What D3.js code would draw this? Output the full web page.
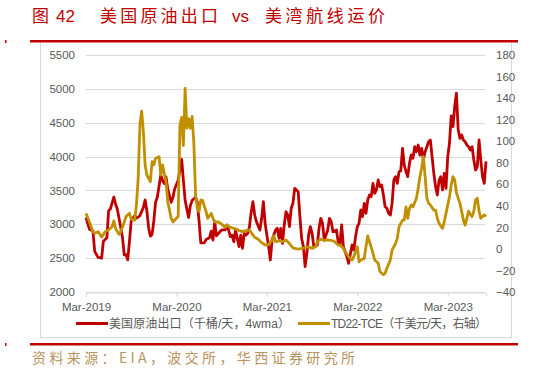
<!DOCTYPE html>
<html><head><meta charset="utf-8">
<script src="https://cdn.jsdelivr.net/npm/d3@7"></script>
<style>body{margin:0;background:#fff;} svg{display:block;}</style>
</head><body><svg id="c" width="534" height="371"></svg>
<script>
// US crude exports (kb/d, 4wma) — x = weeks since Mar-2019
const exportWeek = [0,2,4,5,7,9,10,12,13,14,16,17,18,20,21,22,23,24,25,26,28,29,31,33,34,35,36,37,38,39,40,41,43,44,45,46,47,49,50,51,53,54,55,56,57,59,60,61,63,64,65,66,68,69,71,72,73,74,75,77,78,80,81,82,83,84,85,86,88,89,90,91,92,93,94,95,96,97,98,100,101,102,103,104,105,106,107,109,110,111,112,113,114,115,116,117,118,119,120,121,122,123,124,125,126,127,128,129,130,131,133,134,135,136,137,139,140,141,142,144,145,146,147,148,150,151,153,154,155,156,157,158,159,160,161,162,163,164,165,166,167,168,169,170,171,172,173,174,175,176,177,178,179,180,181,182,183,184,185,186,187,188,189,190,191,192,193,194,195,196,197,198,199,200,201,202,203,204,205,206,207,208,209,210,211,212,213,214,215,216,217,218,219,220,221,222,223,224,225,226,227,228,229,230];
const exportKbd = [3100,2925,2900,2600,2510,2500,2750,2800,3200,3225,3400,3300,3225,2950,2800,2550,2550,2475,2750,3050,3125,3090,3125,3250,3360,3200,2950,2825,2850,3050,3325,3400,3725,3650,3600,3700,3525,3325,3400,3525,3650,3800,3960,3650,3350,3100,3275,3350,3400,3325,3050,2725,2725,2775,2800,2900,2768,3039,2830,2890,2916,2916,2990,2916,2817,2840,2743,2916,2670,2840,2645,2867,2840,2867,2965,3186,3334,3137,3039,2916,3088,3334,3015,2840,2670,2473,2768,2916,2940,2793,2940,2719,2990,3186,3137,2965,3236,3310,3531,3507,3482,3113,2793,2670,2374,2571,2840,2965,2867,2670,2694,2940,3088,3015,2768,2916,3088,3039,2890,2916,2743,2700,2990,2669,2521,2423,2694,2620,2817,2964,3014,3211,3113,3310,3162,3359,3433,3408,3605,3457,3507,3654,3556,3580,3433,3260,3236,3162,3137,3310,3654,3703,3605,3777,3790,4122,3875,3777,3703,3900,4023,3974,4146,4072,4171,4023,4122,3949,4072,4146,4220,4245,3998,3752,3555,3433,3650,3703,3507,3752,3531,3998,4196,4600,4442,4739,4935,4400,4269,4319,4245,4220,4171,4146,4097,4146,3949,3802,3851,4245,3949,3703,3605,3930];
// TD22 TCE (k USD/day, right axis)
const tceWeek = [0,2,4,5,7,9,11,13,15,16,17,19,20,22,23,25,26,28,29,30,31,32,33,34,35,37,38,39,40,42,43,44,46,47,49,50,51,53,54,55,56,57,58,59,60,61,62,63,64,65,66,67,68,69,70,72,73,74,76,78,80,81,83,85,86,88,90,92,94,96,97,99,101,103,105,107,108,109,111,113,115,117,119,120,122,124,126,128,130,132,133,135,137,139,141,143,145,146,148,149,151,153,154,156,157,158,160,161,162,163,165,166,168,169,171,172,173,175,176,178,179,180,182,183,184,185,186,187,188,190,191,192,193,194,195,196,197,198,200,201,202,203,205,206,207,209,210,211,212,213,215,216,217,218,219,220,221,222,223,224,225,226,227,228,229,230];
const tceKusd = [33,25,16,14.6,16,11,16,17.5,20.6,26,19,13.5,16,25,30,33,27.7,26.8,40.7,65.5,115,128,108.7,77.9,68.6,62.4,81,78,84,85.6,68.6,78,62.4,43.8,28.4,25,26.8,30,115,122,96,149,112,121,112,123,99,50,37.7,34.6,45.4,45,40,35,28.4,33,28.4,25,25,23,20,22,20,19,18.6,17,16,17,17.5,13,10.8,9,5.8,3.6,4,8.3,12,6.7,7.5,6.7,8.3,5,1,0.4,-0.1,0.4,1,2,0.5,2,6.7,9,8,8.3,8,6.7,3.6,3.6,0.5,-2.6,-7.2,-10.3,-7.2,2,-12,-10.3,-8.8,2,12,6.7,-4,-10.3,-13.4,-21,-24,-22.6,-18,-10.3,-1,5,9.8,20.6,26.8,26.8,39,28.4,37.7,40.7,39,47,56,67,74.8,85.6,67,47,42.3,40.7,36,36,28.4,23.7,19,25,33,48.4,59.3,67,64,52,42.3,35,26.8,22,28.4,35,32,30,35,45.4,47,35,28.4,30,31.6,30];

const leftTicks = [2000,2500,3000,3500,4000,4500,5000,5500];
const rightTicks = [-40,-20,0,20,40,60,80,100,120,140,160,180];
const xTickWeeks = [0,52,104,156,208];
const xTickLabels = ["Mar-2019","Mar-2020","Mar-2021","Mar-2022","Mar-2023"];
const seriesNames = ["美国原油出口（千桶/天，4wma）","TD22-TCE（千美元/天，右轴）"];
const titleParts = ["图","42","美国原油出口","vs","美湾航线运价"];
const sourceText = "资料来源：EIA，波交所，华西证券研究所";

const RED = "#c00000", GOLD = "#c09000", TXT = "#595959";
const svg = d3.select("#c");
const L = 86, R = 486, T = 55, B = 292;

const x = d3.scaleLinear().domain([0,230]).range([L,R]);
const yL = d3.scaleLinear().domain([2000,5500]).range([B,T]);
const yR = d3.scaleLinear().domain([-40,180]).range([B,T]);

// frame
svg.append("rect").attr("x",40.5).attr("y",41.5).attr("width",471).attr("height",296)
  .attr("fill","none").attr("stroke","#d9d9d9").attr("stroke-width",1);
svg.append("rect").attr("x",30).attr("y",40).attr("width",488).attr("height",2.5).attr("fill",RED);
svg.append("rect").attr("x",30).attr("y",343).attr("width",488).attr("height",2.5).attr("fill",RED);
svg.append("rect").attr("x",5).attr("y",40).attr("width",1.5).attr("height",3).attr("fill",RED);
svg.append("rect").attr("x",5).attr("y",343).attr("width",1.5).attr("height",3).attr("fill",RED);

// title
const tf = '"Noto Sans CJK SC", sans-serif';
const title = svg.append("g").attr("fill",RED).attr("font-size",17).attr("font-family",tf);
title.append("text").attr("x",32).attr("y",22).text(titleParts[0]);
title.append("text").attr("x",56).attr("y",22).attr("font-family","Liberation Sans, sans-serif").text(titleParts[1]);
title.append("text").attr("x",100).attr("y",22).attr("textLength",118).attr("lengthAdjust","spacing").text(titleParts[2]);
title.append("text").attr("x",232).attr("y",22).attr("font-family","Liberation Sans, sans-serif").text(titleParts[3]);
title.append("text").attr("x",265).attr("y",22).attr("textLength",120).attr("lengthAdjust","spacing").text(titleParts[4]);

// source
svg.append("text").attr("x",32).attr("y",363).attr("fill","#b8945f").attr("font-size",14)
  .attr("font-family",tf).attr("textLength",323).attr("lengthAdjust","spacing").text(sourceText);

// gridlines
svg.append("g").selectAll("line").data(leftTicks).join("line")
  .attr("x1",L).attr("x2",R-1).attr("y1",d=>Math.round(yL(d))+0.5).attr("y2",d=>Math.round(yL(d))+0.5)
  .attr("stroke","#d9d9d9").attr("stroke-width",1);

const af = "Liberation Sans, Arial, sans-serif";
// left axis
const gl = svg.append("g").attr("transform",`translate(${L-4},0)`)
  .call(d3.axisLeft(yL).tickValues(leftTicks).tickFormat(d3.format("d")).tickSize(0).tickPadding(7));
gl.select(".domain").remove();
gl.selectAll("text").attr("fill",TXT).attr("font-size",11.5).attr("font-family",af);
// right axis
const gr = svg.append("g").attr("transform",`translate(${R+3},0)`)
  .call(d3.axisRight(yR).tickValues(rightTicks).tickFormat(d3.format("d")).tickSize(0).tickPadding(7));
gr.select(".domain").remove();
gr.selectAll("text").attr("fill",TXT).attr("font-size",11.5).attr("font-family",af);
// x axis
const gx = svg.append("g").attr("transform",`translate(0,${B+0.5})`)
  .call(d3.axisBottom(x).tickValues(xTickWeeks).tickFormat((d,i)=>xTickLabels[i]).tickSize(4).tickPadding(6));
gx.select(".domain").attr("stroke","#d9d9d9");
gx.selectAll(".tick line").attr("stroke","#d9d9d9");
gx.selectAll("text").attr("fill",TXT).attr("font-size",11.5).attr("font-family",af);

// lines
const lineL = d3.line().x((d,i)=>x(exportWeek[i])).y(d=>yL(d)).curve(d3.curveLinear);
const lineR = d3.line().x((d,i)=>x(tceWeek[i])).y(d=>yR(d)).curve(d3.curveLinear);
svg.append("path").datum(exportKbd).attr("d",lineL).attr("fill","none").attr("stroke",RED)
  .attr("stroke-width",2.8).attr("stroke-linejoin","round");
svg.append("path").datum(tceKusd).attr("d",lineR).attr("fill","none").attr("stroke",GOLD)
  .attr("stroke-width",2.8).attr("stroke-linejoin","round");

// legend
const lg = svg.append("g").attr("font-size",12).attr("fill",TXT).attr("font-family",'Liberation Sans, "Noto Sans CJK SC", sans-serif');
lg.append("line").attr("x1",76).attr("x2",108).attr("y1",323.5).attr("y2",323.5).attr("stroke",RED).attr("stroke-width",3);
lg.append("text").attr("x",109).attr("y",328).attr("textLength",181).attr("lengthAdjust","spacing").text(seriesNames[0]);
lg.append("line").attr("x1",298).attr("x2",330).attr("y1",323.5).attr("y2",323.5).attr("stroke",GOLD).attr("stroke-width",3);
lg.append("text").attr("x",331).attr("y",328).attr("textLength",156).attr("lengthAdjust","spacing").text(seriesNames[1]);
</script></body></html>
